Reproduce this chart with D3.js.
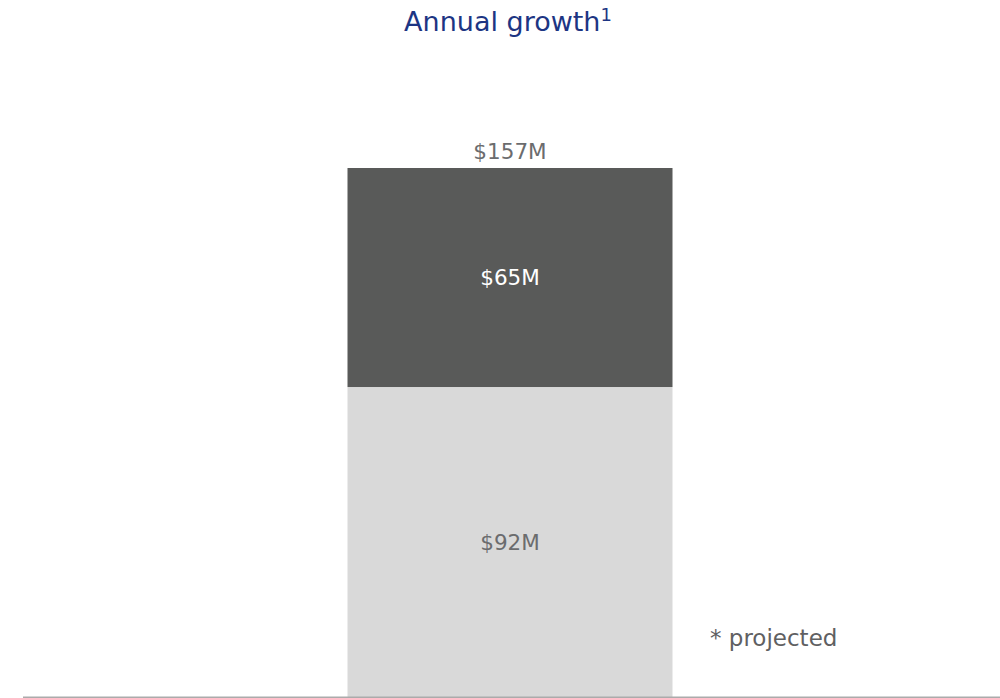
<!DOCTYPE html>
<html>
<head>
<meta charset="utf-8">
<script src="https://cdn.jsdelivr.net/npm/d3@7"></script>
<style>
  html,body{margin:0;padding:0;background:#fff;}
  svg{display:block;font-family:"DejaVu Sans",Verdana,sans-serif;}
</style>
</head>
<body>
<svg id="chart" width="1000" height="698"></svg>
<script>
/* ===== Data ===== */
const categories = ['Annual growth'];
const segments = ['base', 'projected'];
const baseValues = [92];
const projectedValues = [65];
const segmentLabels = [['$92M', '$65M']];
const totalLabels = ['$157M'];
const footnote = '* projected';

/* ===== Chart ===== */
const svg = d3.select('#chart');
const W = 1000, H = 698;
const m = {t:168, b:1};

const x = d3.scaleBand().domain(categories).range([185, 835]).paddingInner(0).paddingOuter(0.5);
const totals = categories.map((c,i)=> baseValues[i] + projectedValues[i]);
const y = d3.scaleLinear().domain([0, d3.max(totals)]).range([H-m.b, m.t]);

const stack = d3.stack().keys(segments);
const rows = categories.map((c,i)=>({cat:c, base:baseValues[i], projected:projectedValues[i]}));
const series = stack(rows);
const fills = {base:'#d9d9d9', projected:'#595a59'};
const txtFill = {base:'#6b6c6e', projected:'#ffffff'};

// title
svg.append('text').attr('x', 508).attr('y', 31).attr('text-anchor','middle')
  .attr('fill','#1d3583').attr('font-size', 27)
  .text('Annual growth').append('tspan').attr('font-size', 18).attr('dy', -10).text('1');

const g = svg.append('g');
series.forEach((s, si)=>{
  g.selectAll(null).data(s).enter().append('rect')
    .attr('x', d=>x(d.data.cat)).attr('width', x.bandwidth())
    .attr('y', d=>y(d[1])).attr('height', d=>y(d[0])-y(d[1]))
    .attr('fill', fills[s.key]);
  g.selectAll(null).data(s).enter().append('text')
    .attr('x', d=>x(d.data.cat)+x.bandwidth()/2)
    .attr('y', d=>(y(d[0])+y(d[1]))/2)
    .attr('dy','0.35em').attr('text-anchor','middle')
    .attr('font-size', 21.5).attr('fill', txtFill[s.key])
    .text((d,i)=>segmentLabels[i][si]);
});

// totals
g.selectAll(null).data(categories).enter().append('text')
  .attr('x', d=>x(d)+x.bandwidth()/2)
  .attr('y', (d,i)=>y(totals[i]) - 9)
  .attr('text-anchor','middle').attr('font-size', 21.5).attr('fill','#6b6c6e')
  .text((d,i)=>totalLabels[i]);

// baseline
svg.append('line').attr('x1', 23).attr('x2', W).attr('y1', y(0)+0.5).attr('y2', y(0)+0.5)
  .attr('stroke','#ababab').attr('stroke-width', 2);

// footnote
svg.append('text').attr('x', 710).attr('y', 646).attr('font-size', 23).attr('fill','#5f6062')
  .text(footnote);
</script>
</body>
</html>
